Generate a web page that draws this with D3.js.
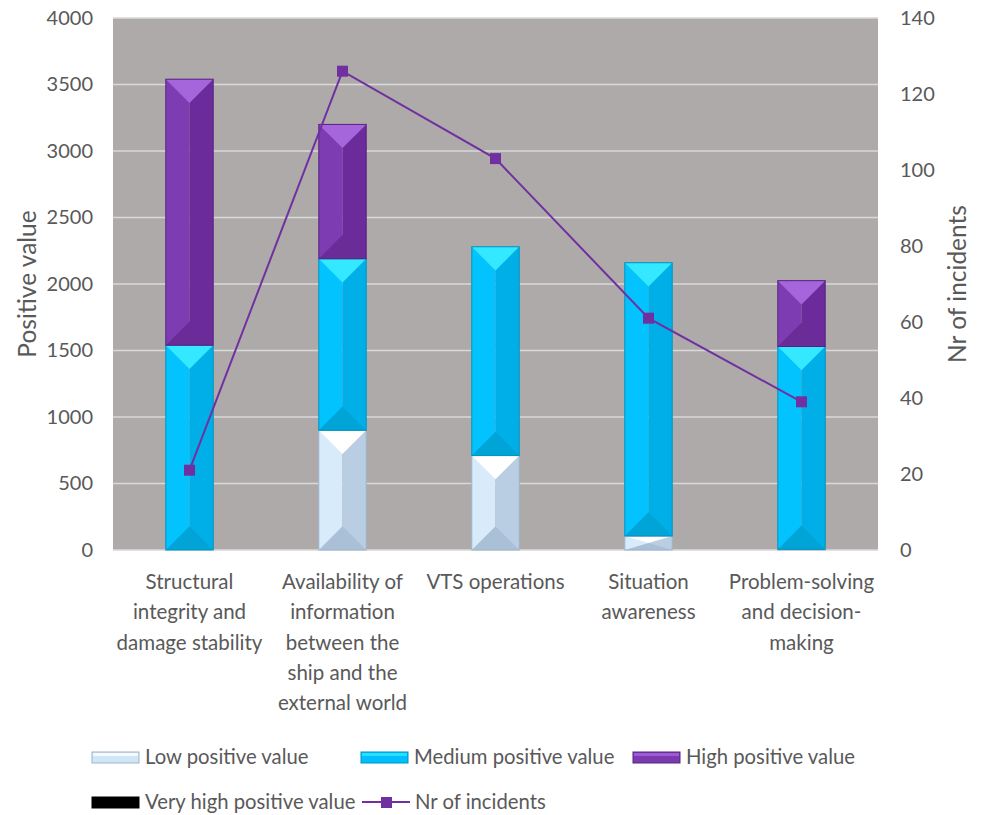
<!DOCTYPE html>
<html><head><meta charset="utf-8">
<script src="https://cdn.jsdelivr.net/npm/d3@7"></script>
<style>body{margin:0;background:#fff}svg{display:block}text{font-family:Lato,"Liberation Sans",sans-serif;fill:#595959}</style>
</head><body><div id="chart"></div>
<script>
const categories = ["Structural integrity and damage stability","Availability of information between the ship and the external world","VTS operations","Situation awareness","Problem-solving and decision-making"];
const categoryLines = [["Structural","integrity and","damage stability"],["Availability of","information","between the","ship and the","external world"],["VTS operations"],["Situation","awareness"],["Problem-solving","and decision-","making"]];
const lowValues = [0, 900, 710, 105, 5];
const mediumValues = [1540, 1290, 1570, 2055, 1525];
const highValues = [2000, 1010, 0, 0, 495];
const veryHighValues = [0, 0, 0, 0, 0];
const incidents = [21, 126, 103, 61, 39];
const leftTicks = [0,500,1000,1500,2000,2500,3000,3500,4000];
const rightTicks = [0,20,40,60,80,100,120,140];
const seriesNames = ["Low positive value","Medium positive value","High positive value","Very high positive value"];
const lineName = "Nr of incidents";

const W=988,H=815;
const m={l:113,r:110,t:18,b:265};
const svg=d3.select("#chart").append("svg").attr("width",W).attr("height",H);
const x=d3.scaleBand().domain(categories).range([m.l,W-m.r]).paddingInner(0.69).paddingOuter(0.345);
const y=d3.scaleLinear().domain([0,4000]).range([H-m.b,m.t]);
const y2=d3.scaleLinear().domain([0,140]).range([H-m.b,m.t]);

svg.append("rect").attr("x",m.l).attr("y",m.t).attr("width",W-m.r-m.l).attr("height",H-m.b-m.t).attr("fill","#AEAAAA");
svg.append("g").selectAll("line").data(leftTicks.slice(1)).join("line")
 .attr("x1",m.l).attr("x2",W-m.r).attr("y1",d=>y(d)).attr("y2",d=>y(d)).attr("stroke","#D9D9D9").attr("stroke-width",1.5);
svg.append("line").attr("x1",m.l).attr("x2",W-m.r).attr("y1",y(0)).attr("y2",y(0)).attr("stroke","#D9D9D9").attr("stroke-width",1.5);

const gl=svg.append("g").attr("transform",`translate(${m.l-20},0)`).call(d3.axisLeft(y).tickValues(leftTicks).tickFormat(d3.format("d")).tickSize(0).tickPadding(0));
gl.select(".domain").remove();
gl.selectAll("text").style("font-size","20px").attr("fill","#595959").attr("font-family","Lato");
const gr=svg.append("g").attr("transform",`translate(${W-m.r+22},0)`).call(d3.axisRight(y2).tickValues(rightTicks).tickFormat(d3.format("d")).tickSize(0).tickPadding(0));
gr.select(".domain").remove();
gr.selectAll("text").style("font-size","20px").attr("fill","#595959").attr("font-family","Lato");

svg.append("text").attr("transform",`translate(36,${(m.t+H-m.b)/2}) rotate(-90)`).attr("text-anchor","middle").style("font-size","24.5px").text("Positive value");
svg.append("text").attr("transform",`translate(966,${(m.t+H-m.b)/2}) rotate(-90)`).attr("text-anchor","middle").style("font-size","24.5px").text("Nr of incidents");

const pal=[
 {base:"#CFE5F8",left:"#D8EBFB",right:"#B9CEE2",top:"#FFFFFF",bot:"#A9C0D6",stroke:"#9FB4C8"},
 {base:"#00BFFF",left:"#03C3FF",right:"#00AEE8",top:"#33E8FF",bot:"#00A4D6",stroke:"#0093C0"},
 {base:"#7B3AAF",left:"#7D3CB2",right:"#6B2B9B",top:"#A566DC",bot:"#6A2D97",stroke:"#5A2382"},
 {base:"#000000",left:"#000000",right:"#000000",top:"#111111",bot:"#000000",stroke:"#000000"}
];
const data=categories.map((c,i)=>({cat:c,s0:lowValues[i],s1:mediumValues[i],s2:highValues[i],s3:veryHighValues[i]}));
const stack=d3.stack().keys(["s0","s1","s2","s3"])(data);

function bevel(g,x0,y0,w,h,p){
  if(h<=0) return;
  const b=Math.min(w/2,h/2);
  g.append("rect").attr("x",x0).attr("y",y0).attr("width",w/2).attr("height",h).attr("fill",p.left);
  g.append("rect").attr("x",x0+w/2).attr("y",y0).attr("width",w/2).attr("height",h).attr("fill",p.right);
  g.append("polygon").attr("points",[[x0,y0],[x0+w,y0],[x0+w/2,y0+b]].join(" ")).attr("fill",p.top);
  g.append("polygon").attr("points",[[x0,y0+h],[x0+w,y0+h],[x0+w/2,y0+h-b]].join(" ")).attr("fill",p.bot);
  g.append("rect").attr("x",x0).attr("y",y0).attr("width",w).attr("height",h).attr("fill","none").attr("stroke",p.stroke).attr("stroke-width",1);
}
const bars=svg.append("g");
stack.forEach((s,si)=>{
  s.forEach(d=>{
    const x0=x(d.data.cat), w=x.bandwidth();
    const yt=y(d[1]), yb=y(d[0]);
    bevel(bars,x0,yt,w,yb-yt,pal[si]);
  });
});

const lineCol="#7030A0";
svg.append("path").datum(incidents).attr("fill","none").attr("stroke",lineCol).attr("stroke-width",2)
 .attr("d",d3.line().x((d,i)=>x(categories[i])+x.bandwidth()/2).y(d=>y2(d)));
svg.append("g").selectAll("rect").data(incidents).join("rect")
 .attr("x",(d,i)=>x(categories[i])+x.bandwidth()/2-5.5).attr("y",d=>y2(d)-5.5).attr("width",11).attr("height",11).attr("fill",lineCol);

const xl=svg.append("g");
categoryLines.forEach((lines,i)=>{
  const t=xl.append("text").attr("text-anchor","middle").style("font-size","20.5px");
  lines.forEach((ln,j)=>t.append("tspan").attr("x",x(categories[i])+x.bandwidth()/2).attr("y",589+j*30.3).text(ln));
});

const leg=[
 {x:92,y:757,t:"s",i:0},{x:361,y:757,t:"s",i:1},{x:633,y:757,t:"s",i:2},
 {x:92,y:802,t:"s",i:3},{x:362,y:802,t:"l"}
];
leg.forEach(L=>{
  const g=svg.append("g");
  if(L.t==="s"){
    const p=pal[L.i];
    g.append("rect").attr("x",L.x).attr("y",L.y-5).attr("width",47).attr("height",11).attr("fill",p.base).attr("stroke",p.stroke);
    g.append("rect").attr("x",L.x+1).attr("y",L.y-4).attr("width",45).attr("height",3).attr("fill",p.top).attr("opacity",L.i===3?0:0.8);
    g.append("text").attr("x",L.x+53).attr("y",L.y+7).style("font-size","20.3px").text(seriesNames[L.i]);
  } else {
    g.append("line").attr("x1",L.x).attr("x2",L.x+48).attr("y1",L.y).attr("y2",L.y).attr("stroke",lineCol).attr("stroke-width",2);
    g.append("rect").attr("x",L.x+19).attr("y",L.y-5).attr("width",11).attr("height",11).attr("fill",lineCol);
    g.append("text").attr("x",L.x+53).attr("y",L.y+7).style("font-size","20.3px").text(lineName);
  }
});
</script></body></html>
